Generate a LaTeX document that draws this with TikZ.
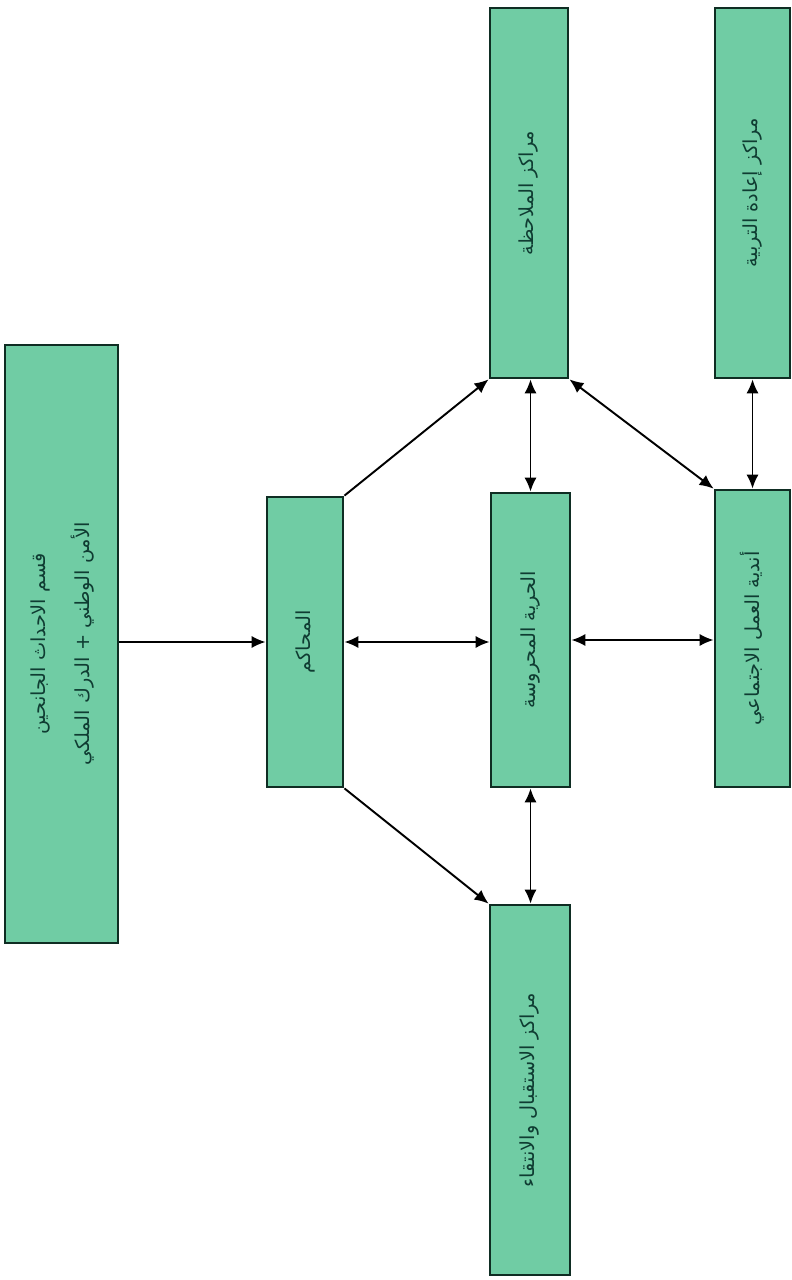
\documentclass[tikz,border=0pt]{standalone}
\usepackage{fontspec}
\newfontfamily\arabicfont[Script=Arabic]{DejaVu Sans}
\TeXXeTstate=1
\usetikzlibrary{arrows.meta}
\definecolor{boxfill}{RGB}{112,204,164}
\definecolor{boxline}{RGB}{15,45,35}
\definecolor{boxtext}{RGB}{15,60,50}
\tikzset{
  box/.style={draw=boxline, line width=1.6pt, fill=boxfill, inner sep=0pt,
    text=boxtext, font=\arabicfont\fontsize{11}{17}\selectfont},
  conn/.style={line width=1.1pt, -{Latex[length=8pt,width=7pt]}},
  bconn/.style={line width=1.1pt, {Latex[length=8pt,width=7pt]}-{Latex[length=8pt,width=7pt]}}
}
\newcommand{\rtl}[1]{\rotatebox{90}{\beginR #1\endR}}
\begin{document}
\begin{tikzpicture}[x=0.02cm, y=-0.02cm]
\useasboundingbox (0,0) rectangle (791,1280);
% boxes (size in px * 0.02cm)
\node[box, minimum width=2.26cm, minimum height=11.96cm] (pol) at (61.5,644)
  {\rotatebox{90}{\begin{tabular}{c}\beginR قسم الاحداث الجانحين\endR\\[8pt]\beginR الأمن الوطني + الدرك الملكي\endR\end{tabular}}};
\node[box, minimum width=1.52cm, minimum height=5.8cm] (court) at (305,642) {\rtl{المحاكم}};
\node[box, minimum width=1.58cm, minimum height=5.88cm] (sup) at (530.5,640) {\rtl{الحرية المحروسة}};
\node[box, minimum width=1.56cm, minimum height=7.4cm] (obs) at (529,193) {\rtl{مراكز الملاحظة}};
\node[box, minimum width=1.5cm, minimum height=7.4cm] (reed) at (752.5,193) {\rtl{مراكز إعادة التربية}};
\node[box, minimum width=1.5cm, minimum height=5.94cm] (soc) at (752.5,638.5) {\rtl{أندية العمل الاجتماعي}};
\node[box, minimum width=1.6cm, minimum height=7.4cm] (rec) at (530,1090) {\rtl{مراكز الاستقبال والانتقاء}};
% connectors
\draw[conn] (pol.east |- court.west) -- (court.west);
\draw[bconn] (court.east) -- (court.east -| sup.west);
\draw[bconn] (sup.east) -- (sup.east -| soc.west);
\draw[conn] (court.north east) -- (obs.south west);
\draw[conn] (court.south east) -- (rec.north west);
\draw[bconn] (sup.north) -- (sup.north |- obs.south);
\draw[bconn] (sup.south) -- (sup.south |- rec.north);
\draw[bconn] (obs.south east) -- (soc.north west);
\draw[bconn] (soc.north) -- (reed.south);
\end{tikzpicture}
\end{document}
